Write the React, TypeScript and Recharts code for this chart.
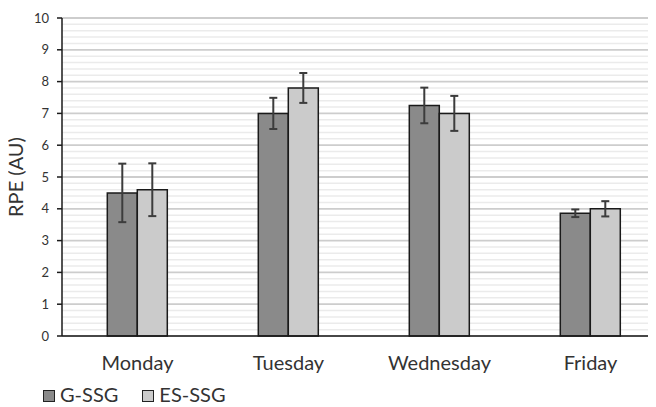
import React from 'react';
import { BarChart, Bar, XAxis, YAxis, CartesianGrid, ErrorBar, Legend } from 'recharts';

const categories = ['Monday', 'Tuesday', 'Wednesday', 'Friday'];
const gSSG = [4.5, 7.0, 7.25, 3.86];
const gSSGErr = [0.92, 0.49, 0.56, 0.12];
const esSSG = [4.6, 7.8, 7.0, 4.0];
const esSSGErr = [0.83, 0.47, 0.55, 0.24];
const yTicks = [0, 1, 2, 3, 4, 5, 6, 7, 8, 9, 10];
const minorSteps = [0.2, 0.4, 0.6, 0.8];

const data = categories.map((c, i) => ({
  day: c,
  g: gSSG[i],
  gErr: gSSGErr[i],
  es: esSSG[i],
  esErr: esSSGErr[i],
}));

const minorValues: number[] = [];
yTicks.slice(0, -1).forEach((t) => minorSteps.forEach((s) => minorValues.push(Number((t + s).toFixed(1)))));

const FONT = 'Lato, "Open Sans", sans-serif';
const G_FILL = '#8a8a8a';
const ES_FILL = '#cbcbcb';

const LegendContent = () => (
  <div style={{ display: 'flex', fontFamily: FONT, fontSize: 20, lineHeight: '14px', color: '#333' }}>
    {[
      { name: 'G-SSG', fill: G_FILL },
      { name: 'ES-SSG', fill: ES_FILL },
    ].map((it, i) => (
      <div key={it.name} style={{ display: 'flex', alignItems: 'flex-start', marginRight: i === 0 ? 24 : 0 }}>
        <div
          style={{
            width: 10,
            height: 10,
            background: it.fill,
            border: '1.5px solid #222',
            marginTop: 3,
            marginRight: 5,
          }}
        />
        <span>{it.name}</span>
      </div>
    ))}
  </div>
);

export default function App() {
  return (
    <div style={{ width: 656, height: 407, overflow: 'hidden', margin: '-8px 0 0 -8px', position: 'relative', background: '#fff' }}>
      <BarChart
        width={680}
        height={407}
        data={data}
        margin={{ top: 18, right: 14, bottom: 31, left: 0 }}
        barCategoryGap="30%"
        barGap={0}
      >
        <CartesianGrid vertical={false} horizontalValues={minorValues} stroke="#ebebeb" strokeWidth={1.5} />
        <CartesianGrid vertical={false} horizontalValues={yTicks} stroke="#cdcdcd" strokeWidth={1.8} />
        <XAxis
          dataKey="day"
          tickLine={false}
          tickSize={0}
          tickMargin={20}
          height={40}
          axisLine={{ stroke: '#1a1a1a', strokeWidth: 1.5 }}
          tick={{ fontFamily: FONT, fontSize: 20, fill: '#333' }}
          interval={0}
        />
        <YAxis
          domain={[0, 10]}
          ticks={yTicks}
          width={62}
          tickSize={5}
          tickMargin={8}
          interval={0}
          axisLine={{ stroke: '#1a1a1a', strokeWidth: 1.5 }}
          tickLine={{ stroke: '#1a1a1a', strokeWidth: 1.5 }}
          tick={{ fontFamily: FONT, fontSize: 13, fill: '#333' }}
          label={{
            value: 'RPE (AU)',
            angle: -90,
            position: 'insideLeft',
            offset: 16,
            style: { fontFamily: FONT, fontSize: 20, fill: '#333', textAnchor: 'middle' },
          }}
        />
        <Legend
          layout="horizontal"
          verticalAlign="middle"
          align="center"
          wrapperStyle={{ top: 387, left: 43, width: 'auto' }}
          content={() => <LegendContent />}
        />
        <Bar dataKey="g" name="G-SSG" fill={G_FILL} stroke="#1a1a1a" strokeWidth={1.5} isAnimationActive={false}>
          <ErrorBar dataKey="gErr" width={4} stroke="#3c3c3c" strokeWidth={2} />
        </Bar>
        <Bar dataKey="es" name="ES-SSG" fill={ES_FILL} stroke="#1a1a1a" strokeWidth={1.5} isAnimationActive={false}>
          <ErrorBar dataKey="esErr" width={4} stroke="#3c3c3c" strokeWidth={2} />
        </Bar>
      </BarChart>
    </div>
  );
}
